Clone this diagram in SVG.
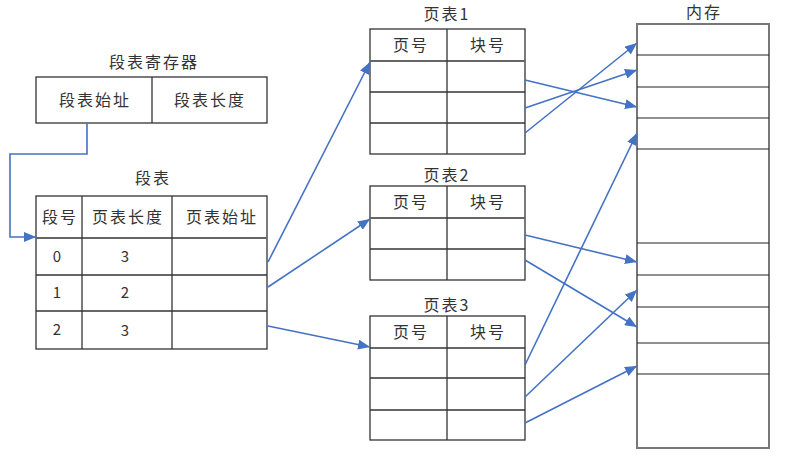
<svg xmlns="http://www.w3.org/2000/svg" width="811" height="465" viewBox="0 0 811 465">
<defs>
<marker id="ah" viewBox="0 0 12 10" refX="12" refY="5" markerWidth="12" markerHeight="10" markerUnits="userSpaceOnUse" orient="auto">
<path d="M0,0 L12,5 L0,10 z" fill="#4472C4"/>
</marker>
<style>
text{font-family:"Noto Sans CJK SC","Noto Sans",sans-serif;font-size:16px;fill:#333;text-anchor:middle;letter-spacing:2px}
.num{letter-spacing:0;font-size:15px}
.box{fill:#fff;stroke:#333;stroke-width:1.3}
.ln{stroke:#333;stroke-width:1.3;fill:none}
.hl{stroke:#666;stroke-width:2;fill:none}
.mem{fill:#fff;stroke:#777;stroke-width:2}
.ml{stroke:#222;stroke-width:1.2}
.c{stroke:#4472C4;stroke-width:1.6;fill:none;marker-end:url(#ah)}
</style>
</defs>
<rect width="811" height="465" fill="#fff"/>

<g id="register">
<text x="154" y="68">段表寄存器</text>
<rect class="box" x="36" y="77" width="231" height="46"/>
<line class="ln" x1="152" y1="77" x2="152" y2="123"/>
<text x="95" y="106">段表始址</text>
<text x="210" y="106">段表长度</text>
</g>

<g id="segtable">
<text x="153" y="184">段表</text>
<rect class="box" x="36" y="196" width="231" height="153"/>
<line class="hl" x1="36" y1="238" x2="267" y2="238"/>
<line class="ln" x1="36" y1="275" x2="267" y2="275"/>
<line class="ln" x1="36" y1="311" x2="267" y2="311"/>
<line class="ln" x1="82" y1="196" x2="82" y2="349"/>
<line class="ln" x1="172" y1="196" x2="172" y2="349"/>
<text x="60" y="223">段号</text>
<text x="128" y="223">页表长度</text>
<text x="222" y="223">页表始址</text>
<text class="num" x="57" y="262">0</text>
<text class="num" x="125" y="262">3</text>
<text class="num" x="57" y="298">1</text>
<text class="num" x="125" y="298">2</text>
<text class="num" x="57" y="335">2</text>
<text class="num" x="125" y="336">3</text>
</g>

<g id="pt1">
<text x="447" y="20">页表1</text>
<rect class="box" x="370" y="29" width="155" height="125"/>
<line class="hl" x1="370" y1="61" x2="525" y2="61"/>
<line class="ln" x1="370" y1="92" x2="525" y2="92"/>
<line class="ln" x1="370" y1="123" x2="525" y2="123"/>
<line class="ln" x1="447" y1="29" x2="447" y2="154"/>
<text x="411" y="51">页号</text>
<text x="488" y="51">块号</text>
</g>

<g id="pt2">
<text x="447" y="181">页表2</text>
<rect class="box" x="370" y="186" width="155" height="94"/>
<line class="hl" x1="370" y1="218" x2="525" y2="218"/>
<line class="ln" x1="370" y1="249" x2="525" y2="249"/>
<line class="ln" x1="447" y1="186" x2="447" y2="280"/>
<text x="411" y="208">页号</text>
<text x="488" y="208">块号</text>
</g>

<g id="pt3">
<text x="447" y="311">页表3</text>
<rect class="box" x="370" y="316" width="155" height="124"/>
<line class="ln" x1="370" y1="348" x2="525" y2="348"/>
<line class="ln" x1="370" y1="378" x2="525" y2="378"/>
<line class="ln" x1="370" y1="410" x2="525" y2="410"/>
<line class="ln" x1="447" y1="316" x2="447" y2="440"/>
<text x="411" y="338">页号</text>
<text x="488" y="338">块号</text>
</g>

<g id="memory">
<text x="704" y="18">内存</text>
<rect class="mem" x="637" y="24" width="132" height="424"/>
<line class="ml" x1="637" y1="55" x2="769" y2="55"/>
<line class="ml" x1="637" y1="87" x2="769" y2="87"/>
<line class="ml" x1="637" y1="118" x2="769" y2="118"/>
<line class="ml" x1="637" y1="149" x2="769" y2="149"/>
<line class="ml" x1="637" y1="243" x2="769" y2="243"/>
<line class="ml" x1="637" y1="275" x2="769" y2="275"/>
<line class="ml" x1="637" y1="307" x2="769" y2="307"/>
<line class="ml" x1="637" y1="343" x2="769" y2="343"/>
<line class="ml" x1="637" y1="374" x2="769" y2="374"/>
</g>

<g id="connectors">
<polyline class="c" points="87,123 87,154 10,154 10,237 36,237"/>
<line class="c" x1="268" y1="262" x2="370" y2="62"/>
<line class="c" x1="268" y1="287" x2="370" y2="219"/>
<line class="c" x1="268" y1="326" x2="370" y2="347"/>
<line class="c" x1="525" y1="80" x2="637" y2="107"/>
<line class="c" x1="525" y1="108" x2="637" y2="70"/>
<line class="c" x1="525" y1="133" x2="637" y2="43"/>
<line class="c" x1="525" y1="365" x2="637" y2="133"/>
<line class="c" x1="525" y1="235" x2="637" y2="262"/>
<line class="c" x1="525" y1="260" x2="637" y2="327"/>
<line class="c" x1="525" y1="397" x2="637" y2="290"/>
<line class="c" x1="525" y1="423" x2="637" y2="366"/>
</g>
</svg>
